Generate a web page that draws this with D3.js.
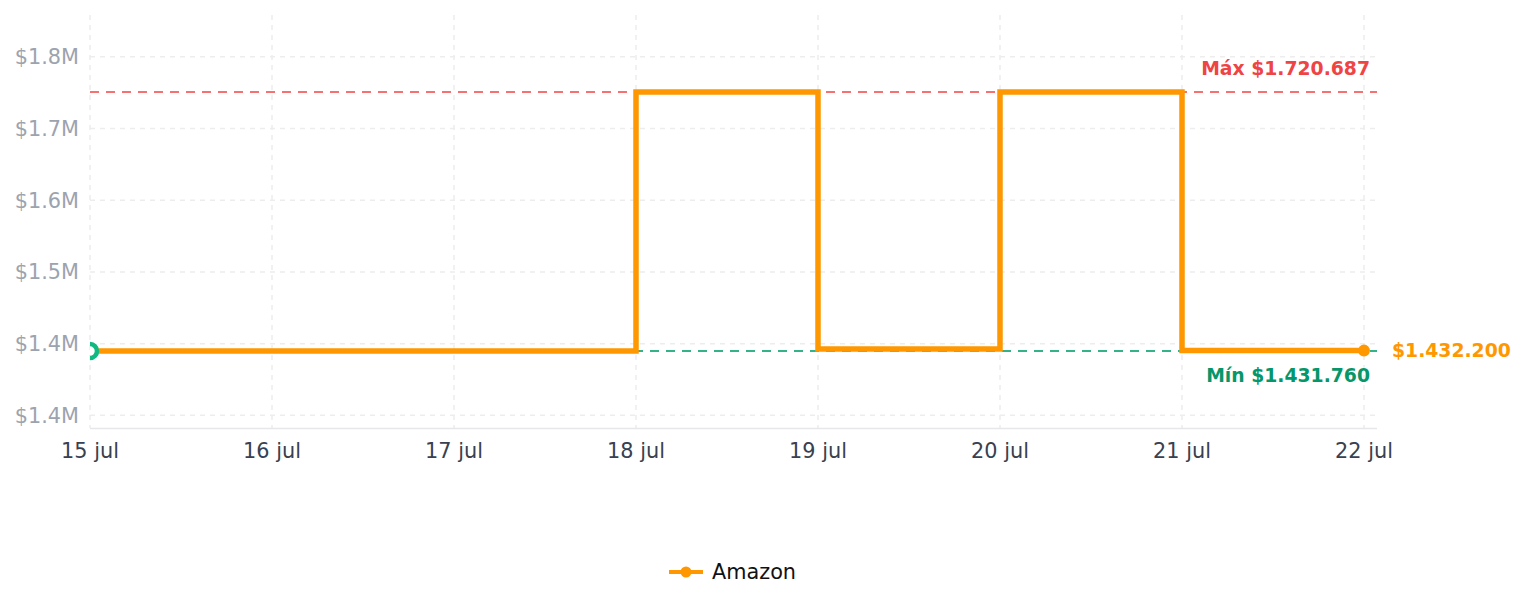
<!DOCTYPE html>
<html>
<head>
<meta charset="utf-8">
<script src="https://cdn.jsdelivr.net/npm/d3@7"></script>
<style>
  body { margin: 0; background: #fff; font-family: "DejaVu Sans", sans-serif; }
  .grid line { stroke: #ededed; stroke-width: 1.5; stroke-dasharray: 5 5; }
</style>
</head>
<body>
<div id="chart"></div>
<script>
// data
var fechas = ["2024-07-15", "2024-07-16", "2024-07-17", "2024-07-18", "2024-07-19", "2024-07-20", "2024-07-21", "2024-07-22"];
var precios = [1431760, 1431760, 1431760, 1720687, 1433990, 1720687, 1432200, 1432200];
var yTicks = [1360000, 1440000, 1520000, 1600000, 1680000, 1760000];
var serie = "Amazon";
var mesCorto = "jul";

var W = 1524, H = 607;
var margin = {top: 15, left: 90, right: 147, bottom: 179};
var plotRight = W - margin.right, plotBottom = H - margin.bottom;

var parseFecha = d3.timeParse("%Y-%m-%d");
var data = fechas.map(function(f, i) { return {date: parseFecha(f), value: precios[i]}; });

var maxV = d3.max(precios), minV = d3.min(precios);
var ultimo = data[data.length - 1];

var x = d3.scaleTime()
    .domain([data[0].date, ultimo.date])
    .range([margin.left, 1364]);
var y = d3.scaleLinear()
    .domain([minV * 0.94, maxV * 1.05])
    .range([plotBottom, margin.top]);

var miles = function(v) { return "$" + d3.format(",")(v).replace(/,/g, "."); };

var svg = d3.select("#chart").append("svg")
    .attr("width", W)
    .attr("height", H);

svg.append("defs").append("clipPath").attr("id", "clip")
  .append("rect")
    .attr("x", margin.left).attr("y", margin.top - 10)
    .attr("width", plotRight - margin.left + 20)
    .attr("height", plotBottom - margin.top + 10);

// grid
var grid = svg.append("g").attr("class", "grid");
grid.selectAll(".h").data(yTicks).enter().append("line")
    .attr("x1", margin.left).attr("x2", plotRight)
    .attr("y1", function(d) { return y(d); }).attr("y2", function(d) { return y(d); });
grid.selectAll(".v").data(data).enter().append("line")
    .attr("x1", function(d) { return x(d.date); }).attr("x2", function(d) { return x(d.date); })
    .attr("y1", margin.top).attr("y2", plotBottom);

// y axis labels
svg.append("g").selectAll("text").data(yTicks).enter().append("text")
    .attr("x", 79)
    .attr("y", function(d) { return y(d); })
    .attr("dy", "0.35em")
    .attr("text-anchor", "end")
    .attr("fill", "#9ca3af")
    .style("font-size", "20.8px")
    .text(function(d) { return "$" + (d / 1e6).toFixed(1) + "M"; });

// x axis
svg.append("line")
    .attr("x1", margin.left).attr("x2", plotRight)
    .attr("y1", plotBottom + 0.5).attr("y2", plotBottom + 0.5)
    .attr("stroke", "#e5e7eb").attr("stroke-width", 1.5);
svg.append("g").selectAll("text").data(data).enter().append("text")
    .attr("x", function(d) { return x(d.date); })
    .attr("y", 451)
    .attr("dy", "0.35em")
    .attr("text-anchor", "middle")
    .attr("fill", "#374151")
    .style("font-size", "20.8px")
    .text(function(d) { return d.date.getDate() + " " + mesCorto; });

// reference lines max / min
svg.append("line")
    .attr("x1", margin.left).attr("x2", plotRight)
    .attr("y1", y(maxV)).attr("y2", y(maxV))
    .attr("stroke", "#f87171").attr("stroke-width", 2).attr("stroke-dasharray", "9 7");
svg.append("line")
    .attr("x1", margin.left).attr("x2", plotRight)
    .attr("y1", y(minV)).attr("y2", y(minV))
    .attr("stroke", "#34b38a").attr("stroke-width", 2).attr("stroke-dasharray", "9 7");

// step line
var linea = d3.line()
    .curve(d3.curveStepAfter)
    .x(function(d) { return x(d.date); })
    .y(function(d) { return y(d.value); });

var plot = svg.append("g").attr("clip-path", "url(#clip)");
plot.append("path")
    .datum(data)
    .attr("fill", "none")
    .attr("stroke", "#ff9800")
    .attr("stroke-width", 5.5)
    .attr("d", linea);

// min point marker
var puntoMin = data.find(function(d) { return d.value === minV; });
plot.append("circle")
    .attr("cx", x(puntoMin.date)).attr("cy", y(puntoMin.value))
    .attr("r", 7)
    .attr("fill", "#fff")
    .attr("stroke", "#10b981").attr("stroke-width", 4.5);

// last point
svg.append("circle")
    .attr("cx", x(ultimo.date)).attr("cy", y(ultimo.value))
    .attr("r", 6)
    .attr("fill", "#ff9800");

svg.append("text")
    .attr("x", 1370).attr("y", y(maxV) - 24)
    .attr("dy", "0.35em")
    .attr("text-anchor", "end")
    .attr("fill", "#ef4444")
    .style("font-size", "18.8px").style("font-weight", "bold")
    .text("Máx " + miles(maxV));
svg.append("text")
    .attr("x", 1370).attr("y", y(minV) + 24)
    .attr("dy", "0.35em")
    .attr("text-anchor", "end")
    .attr("fill", "#059669")
    .style("font-size", "18.8px").style("font-weight", "bold")
    .text("Mín " + miles(minV));
svg.append("text")
    .attr("x", 1392).attr("y", y(ultimo.value))
    .attr("dy", "0.35em")
    .attr("fill", "#ff9800")
    .style("font-size", "18.8px").style("font-weight", "bold")
    .text(miles(ultimo.value));

// legend
var leg = svg.append("g").attr("transform", "translate(669,572)");
leg.append("line").attr("x1", 0).attr("x2", 34)
    .attr("stroke", "#ff9800").attr("stroke-width", 4);
leg.append("circle").attr("cx", 17).attr("r", 5.5).attr("fill", "#ff9800");
leg.append("text")
    .attr("x", 43).attr("dy", "0.35em")
    .attr("fill", "#111")
    .style("font-size", "20.8px")
    .text(serie);
</script>
</body>
</html>
